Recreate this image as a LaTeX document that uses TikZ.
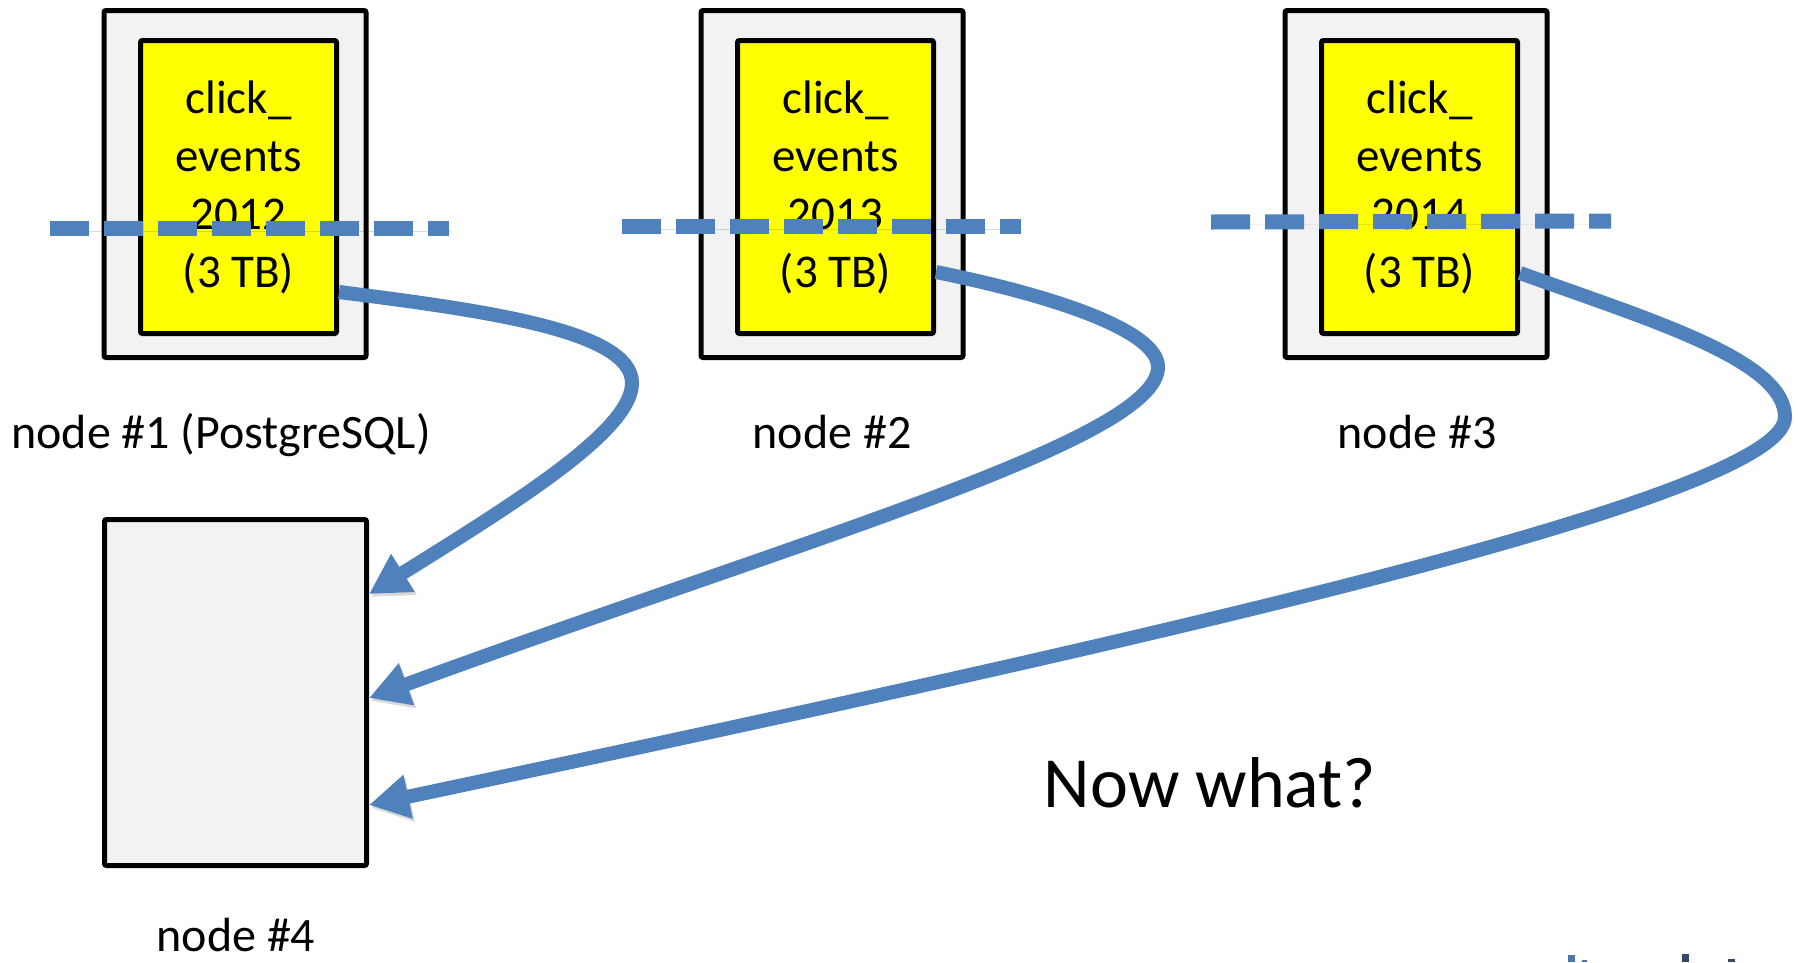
\documentclass[tikz,border=0pt]{standalone}
\usepackage{fontspec}
\setmainfont{Carlito}
\usetikzlibrary{arrows.meta,calc}

\definecolor{flowblue}{HTML}{4F81BD}
\definecolor{shardyellow}{HTML}{FFFF00}
\definecolor{hostgray}{HTML}{F2F2F2}
\definecolor{logoblue}{HTML}{4A78AE}
\definecolor{logonavy}{HTML}{34476A}

\tikzset{
  host/.style={draw=black, line width=5pt, fill=hostgray, rounded corners=2pt,
    minimum width=262pt, minimum height=347pt, inner sep=0pt},
  shard/.style={draw=black, line width=5pt, fill=shardyellow, rounded corners=2pt,
    minimum width=196pt, minimum height=293pt, inner sep=0pt, align=center,
    font=\fontsize{47}{58}\selectfont},
  hostlabel/.style={anchor=base, inner sep=0pt, font=\fontsize{48}{58}\selectfont},
  soft/.style={preaction={draw=black, draw opacity=0.15, fill opacity=0.15,
    transform canvas={shift={(2pt,-3pt)}}}},
  cut/.style={draw=flowblue, line width=15pt, dash pattern=on 39pt off 15pt, soft},
  move/.style={draw=flowblue, line width=14pt,
    -{Triangle[length=40pt,width=42pt]}, soft},
}

\begin{document}
\begin{tikzpicture}[x=1pt, y=-1pt]
  \useasboundingbox (0,0) rectangle (1798,962);

  % worker hosts and their shards
  \node[host]  (h1) at (235,184)    {};
  \node[shard] (s1) at (238.5,187)  {click\_\\events\\2012\\(3 TB)};
  \node[host]  (h2) at (832,184)    {};
  \node[shard] (s2) at (835.5,187)  {click\_\\events\\2013\\(3 TB)};
  \node[host]  (h3) at (1416,184)   {};
  \node[shard] (s3) at (1419.5,187) {click\_\\events\\2014\\(3 TB)};

  % the new, empty host
  \node[host, minimum height=346pt] (n4) at (235.5,692.5) {};

  % captions
  \node[hostlabel] (l1) at (221,448)  {node \#1 (PostgreSQL)};
  \node[hostlabel] (l2) at (832,448)  {node \#2};
  \node[hostlabel] (l3) at (1417,448) {node \#3};
  \node[hostlabel] (l4) at (236,951)  {node \#4};
  \node[anchor=base, inner sep=0pt, font=\fontsize{72}{86}\selectfont]
    (q) at (1210,807) {Now what?};

  % split lines across the shards
  \draw[cut] (50,228) -- (449,228);
  \draw[cut] (621.5,226) -- (1020.5,226);
  \draw[cut] (1211,222) -- (1611,221);

  % moving each shard to the new host
  \draw[move] ([yshift=-105pt]s1.east)
    .. controls (480,310) and (632,330) .. (632,383)
    .. controls (632,430) and (520,500) .. ([yshift=98.5pt]n4.east);
  \draw[move] ([yshift=-85pt]s2.east)
    .. controls (1050,295) and (1158,330) .. (1158,367)
    .. controls (1158,440) and (800,540) .. ([yshift=-5.5pt]n4.east);
  \draw[move] ([yshift=-86pt]s3.east)
    .. controls (1650,320) and (1785,360) .. (1785,417)
    .. controls (1785,500) and (1100,650) .. ([yshift=-112.5pt]n4.east);

  % clipped logo at the lower edge
  \fill[logoblue] (1568,955) rectangle (1575,962);
  \fill[logoblue] (1582,960) rectangle (1587,962);
  \fill[logonavy] (1682,954) rectangle (1689,962);
  \fill[logonavy] (1728,959) rectangle (1735,962);
\end{tikzpicture}
\end{document}
